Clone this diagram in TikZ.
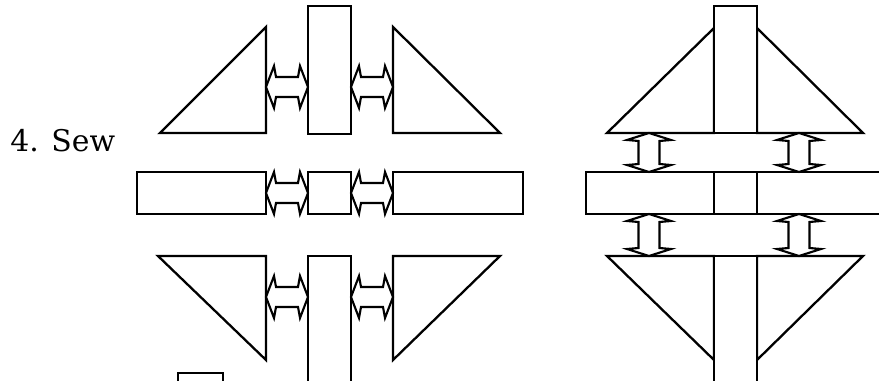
\documentclass[tikz,border=0pt]{standalone}
\usepackage{fontspec}
\setmainfont{DejaVu Serif}

\tikzset{
  piece/.style={draw=black, fill=white, line width=1.3pt, line join=miter},
  sewarrow/.style={draw=black, fill=white, line width=1.2pt, line join=miter}
}
% double block arrow, left to right: x1, x2, y centre
\newcommand{\sewharrow}[3]{%
  \draw[sewarrow] (#1,#3) -- ({#1+8},{#3-21}) -- ({#1+10},{#3-10})
    -- ({#2-10},{#3-10}) -- ({#2-8},{#3-21}) -- (#2,#3)
    -- ({#2-8},{#3+21}) -- ({#2-10},{#3+10}) -- ({#1+10},{#3+10})
    -- ({#1+8},{#3+21}) -- cycle;}
% double block arrow, top to bottom: x centre, y1, y2
\newcommand{\sewvarrow}[3]{%
  \draw[sewarrow] (#1,#2) -- ({#1+22},{#2+7}) -- ({#1+10.5},{#2+8})
    -- ({#1+10.5},{#3-8}) -- ({#1+22},{#3-7}) -- (#1,#3)
    -- ({#1-22},{#3-7}) -- ({#1-10.5},{#3-8}) -- ({#1-10.5},{#2+8})
    -- ({#1-22},{#2+7}) -- cycle;}

\begin{document}
\begin{tikzpicture}[x=0.02cm, y=-0.02cm]
    \useasboundingbox (0,0) rectangle (879,381);
    \clip (0,0) rectangle (879,381);

    % Label
    \node[anchor=base west, inner sep=0pt, font=\fontsize{17}{20}\selectfont]
        (sewlabel) at (10,152) {4. Sew};

    % Left: top row
    \draw[piece] (160,133) -- (266,27) -- (266,133) -- cycle;
    \draw[piece] (308,6) rectangle (351,134);
    \draw[piece] (393,27) -- (500,133) -- (393,133) -- cycle;
    \sewharrow{266}{308}{87}
    \sewharrow{351}{393}{87}

    % Left: middle row
    \draw[piece] (137,172) rectangle (266,214);
    \draw[piece] (308,172) rectangle (351,214);
    \draw[piece] (393,172) rectangle (523,214);
    \sewharrow{266}{308}{193}
    \sewharrow{351}{393}{193}

    % Left: bottom row
    \draw[piece] (158,256) -- (266,256) -- (266,360) -- cycle;
    \draw[piece] (308,256) rectangle (351,395);
    \draw[piece] (393,256) -- (500,256) -- (393,360) -- cycle;
    \sewharrow{266}{308}{297}
    \sewharrow{351}{393}{297}
    \draw[piece] (178,395) -- (178,373) -- (223,373) -- (223,395);

    % Right: sewn top row
    \draw[piece] (607,133) -- (714,28) -- (714,133) -- cycle;
    \draw[piece] (757,28) -- (863,133) -- (757,133) -- cycle;
    \draw[piece] (714,6) rectangle (757,133);

    % Right: sewn middle band
    \draw[piece] (586,172) rectangle (895,214);
    \draw[piece] (714,172) -- (714,214);
    \draw[piece] (757,172) -- (757,214);

    % Right: sewn bottom row
    \draw[piece] (607,256) -- (714,256) -- (714,360) -- cycle;
    \draw[piece] (757,256) -- (863,256) -- (757,360) -- cycle;
    \draw[piece] (714,256) rectangle (757,395);

    % Right: arrows between rows
    \sewvarrow{649}{133}{172}
    \sewvarrow{799}{133}{172}
    \sewvarrow{649}{214}{256}
    \sewvarrow{799}{214}{256}
\end{tikzpicture}
\end{document}
